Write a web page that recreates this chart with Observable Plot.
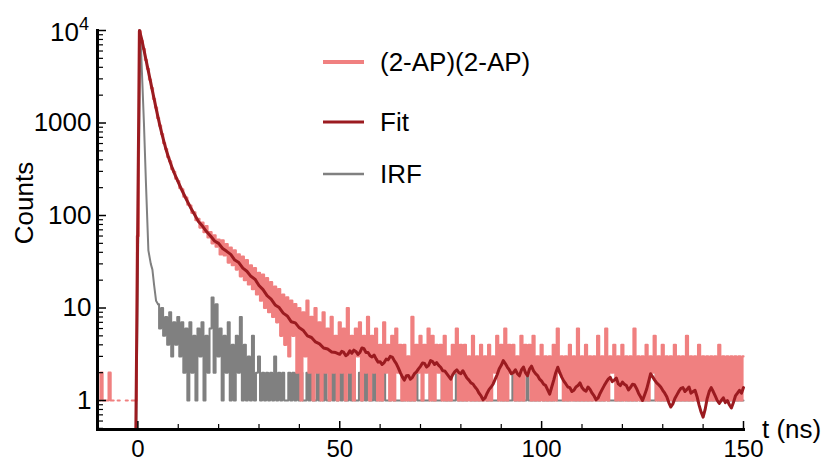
<!DOCTYPE html>
<html><head><meta charset="utf-8">
<script src="https://cdn.jsdelivr.net/npm/d3@7"></script>
<script src="https://cdn.jsdelivr.net/npm/@observablehq/plot@0.6"></script>
<style>body{margin:0;background:#fff;} #chart{width:822px;height:462px;}</style>
</head><body><div id="chart"></div>
<script>
// ---- data (counts) ----
const sampleStart = -10, sampleStep = 0.5;   // ns grid of the measured decay
const sampleCounts = [
  0, 1, 2, 1, 1, 1, 2, 1, 1, 0,
  1, 1, 0, 0, 1, 1, 0, 1, 1, 1,
  60, 9800, 7700, 6300, 4800, 3850, 2950, 2380, 1820, 1470,
  1130, 935, 760, 605, 525, 428, 385, 318, 296, 250,
  236, 198, 192, 160, 156, 131, 128, 107, 108, 89,
  92, 74, 84, 66, 77, 58, 66, 50, 61, 46,
  55, 38, 54, 37, 49, 31, 45, 29, 42, 26,
  38, 22, 36, 20, 33, 18, 29, 16, 27, 14,
  24, 12, 23, 10, 21, 9, 19, 8, 17, 7,
  16, 5, 14, 4, 13, 3, 12, 5, 11, 2,
  10, 1, 9, 3, 12, 2, 8, 1, 10, 2,
  7, 1, 9, 2, 6, 1, 8, 2, 5, 1,
  7, 2, 6, 1, 10, 2, 5, 1, 6, 3,
  7, 1, 5, 2, 8, 1, 5, 2, 6, 1,
  4, 1, 7, 2, 4, 1, 5, 1, 6, 2,
  4, 1, 4, 1, 3, 1, 8, 1, 4, 2,
  5, 1, 4, 2, 6, 1, 5, 1, 4, 2,
  4, 1, 5, 1, 3, 1, 4, 2, 6, 1,
  4, 1, 4, 1, 3, 1, 5, 1, 3, 1,
  4, 1, 3, 1, 4, 1, 3, 2, 5, 1,
  4, 1, 6, 1, 4, 2, 4, 1, 3, 1,
  5, 1, 4, 2, 4, 1, 5, 1, 3, 1,
  4, 1, 3, 1, 3, 1, 4, 1, 6, 2,
  3, 1, 3, 1, 4, 1, 3, 1, 6, 1,
  3, 1, 4, 1, 3, 1, 3, 1, 5, 1,
  3, 1, 6, 1, 3, 2, 4, 1, 3, 1,
  4, 1, 3, 1, 3, 1, 6, 1, 3, 1,
  3, 1, 4, 1, 3, 2, 5, 1, 3, 1,
  4, 1, 3, 1, 3, 1, 4, 1, 3, 1,
  3, 1, 5, 1, 3, 1, 3, 1, 4, 1,
  3, 1, 3, 1, 3, 1, 3, 1, 4, 1,
  3, 1, 3, 1, 3, 1, 3, 1, 3, 1,
  3
];

const irfHeadT = [-0.4, 0.6, 1, 1.5, 2, 2.6, 3.2, 3.6, 4, 4.5];
const irfHeadV = [0.486, 10000, 3600, 1000, 224, 42, 30, 26, 18, 12];
const irfTailStart = 5, irfTailStep = 0.5;
const irfTailCounts = [
  11, 6, 10, 5, 8, 4, 9, 3, 7, 4,
  8, 3, 7, 2, 6, 1, 7, 2, 5, 1,
  6, 3, 7, 1, 5, 2, 6, 13, 2, 11,
  3, 6, 1, 5, 2, 7, 1, 4, 1, 5,
  2, 8, 1, 4, 1, 3, 1, 5, 1, 2,
  3, 1, 2, 1, 2, 1, 2, 1, 3, 1,
  2, 1, 2, 1, 1, 2, 1, 2, 1, 2,
  1, 2, 1, 1, 2, 1, 2, 1, 1, 2,
  1, 2, 1, 2, 1, 1, 2, 1, 2, 1,
  2, 1, 2, 1, 1, 2, 1, 2, 1, 1,
  2, 1, 2, 1, 2, 1, 1, 2, 1, 2,
  1, 1, 2, 1, 1, 1, 2, 1, 1, 1,
  1, 1, 1, 2, 1, 1, 1, 1, 2, 1,
  1, 1, 1, 1, 1, 2, 1, 1, 1, 1,
  1, 2, 1, 1, 1, 1, 1, 1, 2, 1,
  1, 1, 1, 1, 2, 1, 1, 1, 1, 1,
  1, 1, 2, 1, 1, 1, 1, 1, 1, 2,
  1, 1, 1, 1, 1, 1, 2, 1, 1, 1,
  1, 1, 1, 2, 1, 1, 1, 1, 1, 1,
  2, 1, 1, 1, 1, 1, 1, 2, 1, 1,
  1, 1, 1, 1, 1, 2, 1, 1, 1, 1,
  1, 1, 1, 1, 1, 1, 2, 1, 1, 1,
  1, 1, 2, 1, 1, 1, 1, 1, 1, 1,
  1, 2, 1, 1, 1, 1, 1, 1, 2, 1,
  1, 1, 1, 1, 1, 1, 1, 2, 1, 1,
  1, 1, 1, 1, 2, 1, 1, 1, 1, 1,
  1, 1, 1, 1, 1, 1, 2, 1, 1, 1,
  1, 2, 1, 1, 1, 1, 1, 1, 1, 2,
  1, 1, 1, 1, 1, 2, 1, 1, 1, 1,
  1
];

const fitHeadT = [-0.5, 0.4, 1, 1.5, 2, 2.5, 3, 3.5, 4, 4.5, 5, 5.5, 6, 6.5, 7, 7.5, 8, 8.5, 9, 9.5];
const fitHeadV = [0.486, 10000, 7850, 6170, 4840, 3800, 2990, 2340, 1840, 1450, 1150, 920, 750, 617, 513, 437, 376, 327, 288, 257];
const fitMidStart = 10, fitMidStep = 1;
const fitMidCounts = [
  229, 184, 150, 123, 103, 86, 77, 67, 60, 53,
  50, 44, 41, 38, 33, 31, 27, 25, 22, 20.5,
  17.5, 15.8, 13.6, 12.5, 10.8, 10.1, 8.8, 8.2, 7.1, 6.9,
  6.1, 5.7, 5.0, 4.8, 4.3, 4.1, 3.7, 3.6, 3.35, 3.3
];
const fitTailStart = 50, fitTailStep = 0.5;
const fitTailCounts = [
  3.16, 3.40, 3.31, 3.05, 3.16, 3.45, 3.24, 3.50, 3.39, 3.15,
  3.31, 3.70, 3.63, 3.30, 3.31, 3.05, 2.95, 3.10, 2.82, 2.60,
  2.63, 2.45, 2.57, 2.80, 2.75, 3.00, 2.95, 2.70, 2.51, 2.25,
  2.0, 1.80, 1.66, 1.85, 1.86, 1.70, 1.78, 1.95, 2.04, 2.20,
  2.34, 2.55, 2.51, 2.30, 2.40, 2.70, 2.63, 2.45, 2.57, 2.40,
  2.29, 2.10, 2.09, 1.95, 1.82, 1.70, 1.91, 2.05, 2.14, 2.00,
  1.95, 2.10, 1.91, 1.75, 1.66, 1.55, 1.51, 1.40, 1.32, 1.20,
  1.12, 1.02, 1.07, 1.20, 1.32, 1.40, 1.51, 1.70, 1.91, 2.20,
  2.40, 2.70, 2.51, 2.30, 2.14, 1.95, 2.0, 2.15, 1.95, 1.85,
  2.14, 2.30, 2.0, 1.85, 2.19, 2.35, 2.09, 1.95, 1.86, 1.70,
  1.62, 1.50, 1.45, 1.30, 1.17, 1.40, 1.66, 2.00, 2.29, 2.00,
  1.78, 1.62, 1.51, 1.40, 1.38, 1.25, 1.29, 1.40, 1.45, 1.55,
  1.38, 1.30, 1.26, 1.40, 1.32, 1.20, 1.12, 1.02, 1.07, 1.20,
  1.32, 1.45, 1.58, 1.70, 1.78, 1.60, 1.66, 1.75, 1.51, 1.45,
  1.58, 1.50, 1.45, 1.30, 1.38, 1.50, 1.48, 1.35, 1.20, 1.10,
  1.0, 1.15, 1.32, 1.60, 1.95, 1.80, 1.66, 1.55, 1.48, 1.40,
  1.29, 1.20, 1.10, 0.95, 0.85, 0.92, 1.05, 1.15, 1.26, 1.35,
  1.38, 1.25, 1.32, 1.40, 1.20, 1.25, 1.29, 1.10, 0.89, 0.75,
  0.66, 0.80, 1.05, 1.25, 1.38, 1.25, 1.12, 1.00, 0.93, 1.00,
  1.07, 0.95, 1.0, 0.90, 0.83, 0.95, 1.12, 1.20, 1.29, 1.20,
  1.38
];

const xDomain = [-10, 150];
const yDomain = [0.486, 10000];
const xTicks = [0, 50, 100, 150];
const xMinorTicks = [-10, 10, 20, 30, 40, 60, 70, 80, 90, 110, 120, 130, 140];
const yTicks = [1, 10, 100, 1000, 10000];
const yMinorTicks = [0.5, 0.6, 0.7, 0.8, 0.9, 2, 3, 4, 5, 6, 7, 8, 9, 20, 30, 40, 50, 60, 70, 80, 90,
  200, 300, 400, 500, 600, 700, 800, 900, 2000, 3000, 4000, 5000, 6000, 7000, 8000, 9000];
const seriesNames = ["(2-AP)(2-AP)", "Fit", "IRF"];
const seriesColors = ["#F08080", "#9B1B20", "#808080"];
const xLabel = "t (ns)", yLabel = "Counts";

// ---- build tables ----
const sample = sampleCounts.map((v, i) => ({t: sampleStart + i * sampleStep, v}));
const irf = irfHeadT.map((t, i) => ({t, v: irfHeadV[i]}))
  .concat(irfTailCounts.map((v, i) => ({t: irfTailStart + i * irfTailStep, v})));
const fit = fitHeadT.map((t, i) => ({t, v: fitHeadV[i]}))
  .concat(fitMidCounts.map((v, i) => ({t: fitMidStart + i * fitMidStep, v})))
  .concat(fitTailCounts.map((v, i) => ({t: fitTailStart + i * fitTailStep, v})));
const pos = d => (d.v > 0 ? d.v : NaN);

const W = 822, H = 462, mL = 97, mR = 79, mT = 30, mB = 33;
const fw = W - mL - mR, fh = H - mT - mB;
const font = "'Liberation Sans', Arial, Helvetica, sans-serif";

const chart = Plot.plot({
  width: W, height: H,
  marginLeft: mL, marginRight: mR, marginTop: mT, marginBottom: mB,
  style: {fontFamily: font, fontSize: "26px", background: "#fff", color: "#000", overflow: "visible"},
  x: {domain: xDomain, axis: null},
  y: {type: "log", domain: yDomain, axis: null},
  marks: [
    Plot.lineY(irf.filter(d => d.t <= irfTailStart), {x: "t", y: pos, stroke: seriesColors[2], strokeWidth: 2}),
    Plot.lineY(irf.filter(d => d.t >= irfTailStart), {x: "t", y: pos, stroke: seriesColors[2], strokeWidth: 2, curve: "step"}),
    Plot.lineY(sample, {x: "t", y: pos, stroke: seriesColors[0], strokeWidth: 2.2, curve: "step"}),
    Plot.lineY(fit, {x: "t", y: pos, stroke: seriesColors[1], strokeWidth: 3}),
    Plot.tickY(yMinorTicks, {y: d => d, insetRight: fw - 6, stroke: "#000", strokeWidth: 1.2}),
    Plot.tickY(yTicks, {y: d => d, insetRight: fw - 9, stroke: "#000", strokeWidth: 1.5}),
    Plot.tickX(xMinorTicks, {x: d => d, insetTop: fh - 5, stroke: "#000", strokeWidth: 1.2}),
    Plot.tickX(xTicks, {x: d => d, insetTop: fh - 8, stroke: "#000", strokeWidth: 1.5}),
    Plot.frame({anchor: "left", stroke: "#000", strokeWidth: 3}),
    Plot.frame({anchor: "bottom", stroke: "#000", strokeWidth: 3}),
    Plot.axisY({ticks: yTicks.slice(0, 4), tickSize: 0, tickPadding: 6, tickFormat: d => String(d), fontSize: 26, label: null}),
    Plot.axisX({ticks: xTicks, tickSize: 0, tickPadding: 10, fontSize: 24, label: null})
  ]
});
document.getElementById("chart").appendChild(chart);

// ---- annotations ----
const svg = d3.select(chart);
const topLabel = svg.append("text").attr("x", 89).attr("y", 41).attr("text-anchor", "end")
  .attr("font-family", font).attr("font-size", 26).attr("fill", "#000");
topLabel.append("tspan").text("10");
topLabel.append("tspan").attr("dy", -11).attr("font-size", 18).text("4");

svg.append("text").attr("transform", "translate(33,203) rotate(-90)")
  .attr("text-anchor", "middle").attr("font-family", font).attr("font-size", 26).attr("fill", "#000")
  .text(yLabel);
svg.append("text").attr("x", 762).attr("y", 429).attr("dy", "0.35em").attr("text-anchor", "start")
  .attr("font-family", font).attr("font-size", 26).attr("fill", "#000").text(xLabel);

const legY = [62, 122, 174], legW = [4, 3, 2.5];
seriesNames.forEach((name, i) => {
  svg.append("line").attr("x1", 323).attr("x2", 364).attr("y1", legY[i]).attr("y2", legY[i])
    .attr("stroke", seriesColors[i]).attr("stroke-width", legW[i]);
  svg.append("text").attr("x", 380).attr("y", legY[i]).attr("dy", "0.36em").attr("text-anchor", "start")
    .attr("font-family", font).attr("font-size", 26).attr("fill", "#000").text(name);
});
</script>
</body></html>
